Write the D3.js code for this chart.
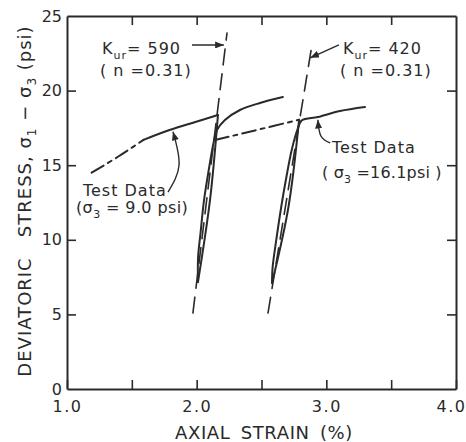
<!DOCTYPE html>
<html>
<head>
<meta charset="utf-8">
<script src="https://cdn.jsdelivr.net/npm/d3@7"></script>
<style>
  body { margin: 0; background: #fff; }
  svg { display: block; font-family: "DejaVu Sans", sans-serif; }
</style>
</head>
<body>
<svg width="466" height="442"></svg>
<script>
// loading / unloading / reloading curves, [axial strain %, deviatoric stress psi]
const load9Dashed = [[1.19, 14.5], [1.39, 15.55], [1.59, 16.7]];
const load9Solid = [[1.59, 16.7], [1.79, 17.36], [1.99, 17.9], [2.164, 18.36]];
const unload9 = [[2.164, 18.36], [2.103, 12.67], [2.01, 7.17]];
const reload9 = [[2.01, 7.17], [2.011, 8.85], [2.03, 10.46], [2.057, 12.67], [2.097, 14.88],
  [2.13, 16.49], [2.157, 17.36], [2.218, 18.03], [2.334, 18.7], [2.488, 19.17], [2.665, 19.57]];

const load16Dashed = [[2.141, 16.69], [2.45, 17.33], [2.79, 18.05]];
const unload16 = [[2.79, 18.05], [2.708, 12.2], [2.581, 7.1]];
const reload16 = [[2.581, 7.1], [2.586, 8.18], [2.614, 9.99], [2.652, 12.2], [2.692, 14.21],
  [2.733, 16.02], [2.776, 17.36], [2.81, 18.0], [2.935, 18.23], [3.105, 18.63], [3.298, 18.9]];

// unload-reload modulus lines
const kLine590 = [[1.971, 5.09], [2.234, 23.86]];
const kLine420 = [[2.55, 5.09], [2.889, 23.06]];

// leaders
const arrow590 = [[1.964, 23.06], [2.21, 23.06]];
const arrow420 = [[3.097, 23.06], [2.876, 22.2]];
const leader9 = [[1.779, 13.2], [1.864, 15.0], [1.817, 17.25]];
const leader16 = [[3.03, 16.49], [2.958, 16.96], [2.935, 18.05]];

const xTickVals = [1, 1.5, 2, 2.5, 3, 3.5, 4];
const xLabels = {1: "1.0", 2: "2.0", 3: "3.0", 4: "4.0"};
const yTickVals = [0, 5, 10, 15, 20, 25];

const svg = d3.select('svg');
const ink = '#2a2a2a';
const x = d3.scaleLinear().domain([1, 4]).range([67, 456]);
const y = d3.scaleLinear().domain([0, 25]).range([389, 16]);

svg.append('defs').append('marker')
  .attr('id', 'ah').attr('viewBox', '0 0 10 8')
  .attr('refX', 10).attr('refY', 4)
  .attr('markerWidth', 9).attr('markerHeight', 7)
  .attr('markerUnits', 'userSpaceOnUse')
  .attr('orient', 'auto')
  .append('path').attr('d', 'M0,0L10,4L0,8z').attr('fill', ink);

// axes (inward ticks)
const styleAxis = (g, showLabels) => {
  g.select('.domain').attr('stroke', ink).attr('stroke-width', 2);
  g.selectAll('.tick line').attr('stroke', ink).attr('stroke-width', 1.6);
  g.selectAll('.tick text')
    .attr('fill', ink)
    .style('font-family', '"DejaVu Sans", sans-serif')
    .style('font-size', '16px');
  if (!showLabels) g.selectAll('.tick text').remove();
};

svg.append('g').attr('transform', 'translate(0,' + y(0) + ')')
  .call(d3.axisBottom(x).tickValues(xTickVals).tickSize(-9).tickSizeOuter(0).tickPadding(12)
    .tickFormat(d => xLabels[d] || ''))
  .call(g => styleAxis(g, true))
  .call(g => g.selectAll('.tick text').attr('letter-spacing', 1.5))
  .call(g => g.selectAll('.tick text').filter(d => d === 4).attr('text-anchor', 'end').attr('x', 10));

svg.append('g').attr('transform', 'translate(0,' + y(25) + ')')
  .call(d3.axisTop(x).tickValues(xTickVals.slice(1, -1)).tickSize(-9).tickSizeOuter(0))
  .call(g => styleAxis(g, false));

svg.append('g').attr('transform', 'translate(' + x(1) + ',0)')
  .call(d3.axisLeft(y).tickValues(yTickVals).tickSize(-9).tickSizeOuter(0).tickPadding(5))
  .call(g => styleAxis(g, true))
  .call(g => g.selectAll('.tick line').filter(d => d === 0 || d === 25).remove());

svg.append('g').attr('transform', 'translate(' + x(4) + ',0)')
  .call(d3.axisRight(y).tickValues(yTickVals.slice(1, -1)).tickSize(-9).tickSizeOuter(0))
  .call(g => styleAxis(g, false));

// axis titles
svg.append('text')
  .attr('x', 264).attr('y', 439)
  .attr('text-anchor', 'middle')
  .attr('fill', ink).style('font-size', '18px')
  .attr('letter-spacing', 0.6)
  .attr('word-spacing', 4)
  .text('AXIAL STRAIN (%)');

const yt = svg.append('text')
  .attr('transform', 'translate(31,201) rotate(-90)')
  .attr('text-anchor', 'middle')
  .attr('fill', ink).style('font-size', '18px')
  .attr('letter-spacing', 1);
yt.append('tspan').text('DEVIATORIC\u00a0\u00a0 STRESS, \u03c3');
yt.append('tspan').attr('dy', 5).style('font-size', '12px').text('1');
yt.append('tspan').attr('dy', -5).text(' \u2212 \u03c3');
yt.append('tspan').attr('dy', 5).style('font-size', '12px').text('3');
yt.append('tspan').attr('dy', -5).text(' (psi)');

// curves
const line = d3.line().x(d => x(d[0])).y(d => y(d[1])).curve(d3.curveCatmullRom.alpha(0.5));
const straight = d3.line().x(d => x(d[0])).y(d => y(d[1]));

const drawCurve = (data, gen, width, dash) => {
  svg.append('path')
    .attr('d', gen(data))
    .attr('fill', 'none')
    .attr('stroke', ink)
    .attr('stroke-width', width)
    .attr('stroke-linecap', 'round')
    .attr('stroke-dasharray', dash || null);
};

drawCurve(kLine590, straight, 1.6, '16,9');
drawCurve(kLine420, straight, 1.6, '16,9');

drawCurve(load9Dashed, line, 2, '14,5,4,5');
drawCurve(load9Solid, line, 2);
drawCurve(unload9, line, 2);
drawCurve(reload9, line, 2);

drawCurve(load16Dashed, line, 2, '14,5,4,5');
drawCurve(unload16, line, 2);
drawCurve(reload16, line, 2);

// leaders with arrowheads
[arrow590, arrow420].forEach(a => {
  svg.append('path').attr('d', straight(a))
    .attr('fill', 'none').attr('stroke', ink).attr('stroke-width', 1.4)
    .attr('marker-end', 'url(#ah)');
});
[leader9, leader16].forEach(a => {
  svg.append('path').attr('d', d3.line().x(d => x(d[0])).y(d => y(d[1])).curve(d3.curveNatural)(a))
    .attr('fill', 'none').attr('stroke', ink).attr('stroke-width', 1.4)
    .attr('marker-end', 'url(#ah)');
});

// annotations
const note = (xv, yv, parts, ls) => {
  const t = svg.append('text')
    .attr('x', x(xv)).attr('y', y(yv))
    .attr('fill', ink).style('font-size', '16px')
    .attr('letter-spacing', ls === undefined ? 1 : ls);
  parts.forEach(p => {
    const s = t.append('tspan').text(p.t);
    if (p.sub) s.attr('dy', 5).style('font-size', '11px');
    if (p.up) s.attr('dy', -5);
  });
};

note(1.27, 22.45, [{t: 'K'}, {t: 'ur', sub: true}, {t: '= 590', up: true}]);
note(1.254, 20.98, [{t: '( n =0.31)'}]);
note(3.128, 22.45, [{t: 'K'}, {t: 'ur', sub: true}, {t: '= 420', up: true}]);
note(3.105, 20.98, [{t: '( n =0.31)'}]);
note(1.123, 12.94, [{t: 'Test  Data'}]);
note(1.069, 11.8, [{t: '(\u03c3'}, {t: '3', sub: true}, {t: ' = 9.0 psi)', up: true}], 0.4);
note(3.043, 15.82, [{t: 'Test  Data'}]);
note(2.966, 14.14, [{t: '( \u03c3'}, {t: '3', sub: true}, {t: ' =16.1psi )', up: true}], 0.2);
</script>
</body>
</html>
